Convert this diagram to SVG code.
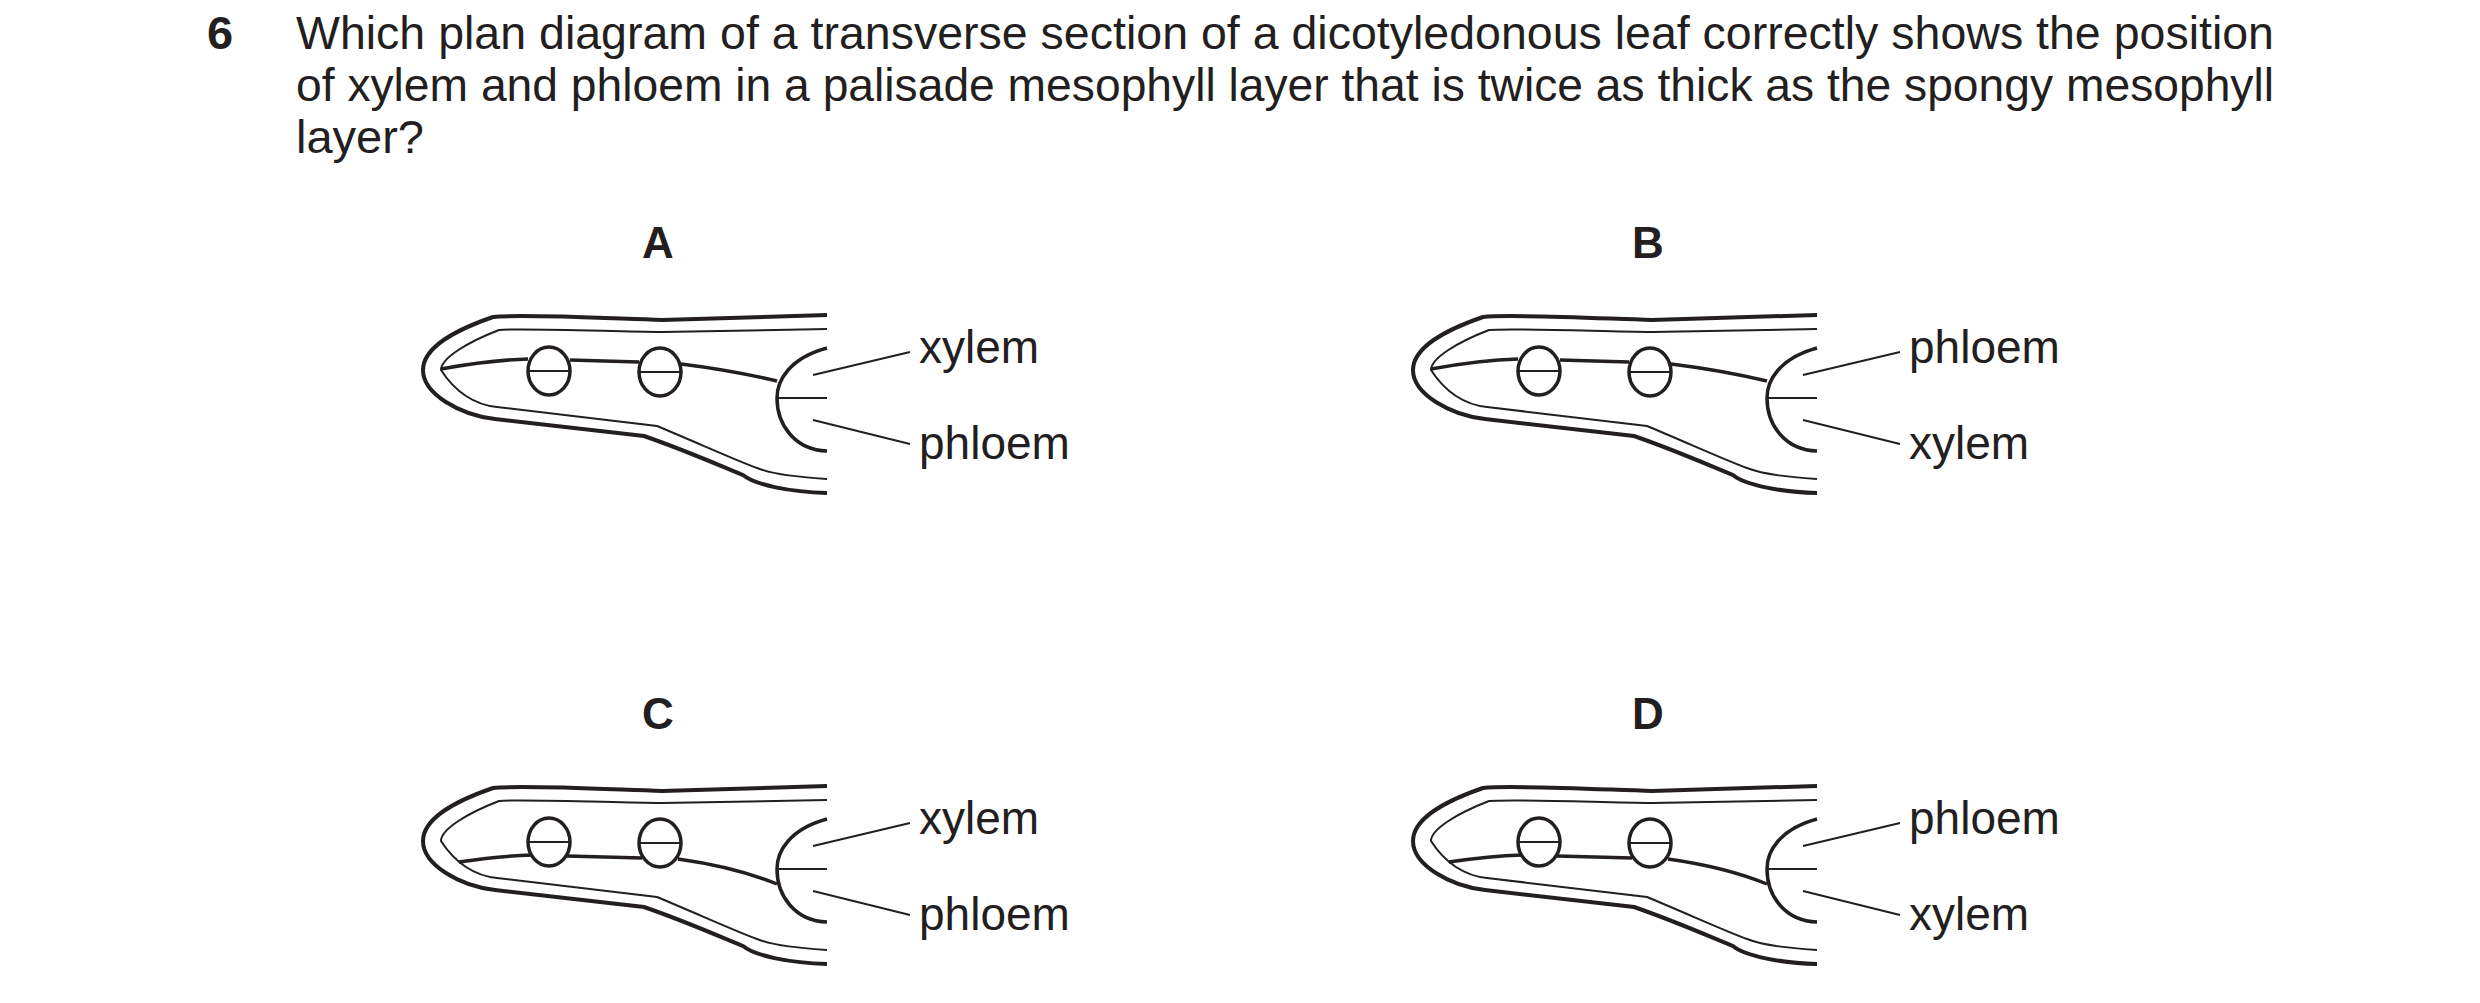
<svg xmlns="http://www.w3.org/2000/svg" xmlns:xlink="http://www.w3.org/1999/xlink" width="2480" height="1003" viewBox="0 0 2480 1003">
<style>
text{font-family:"Liberation Sans",Arial,sans-serif;fill:#231f20}
.q{font-size:47px}
.lbl{font-size:46px}
.opt{font-size:44px;font-weight:bold;text-anchor:middle}
.thick{fill:none;stroke:#231f20;stroke-width:4}
.thin{fill:none;stroke:#231f20;stroke-width:2}
.mid{fill:none;stroke:#231f20;stroke-width:3.5}
</style>
<defs>
<g id="base">
<path class="thick" d="M827,315 L662,320 C600,318 520,314 493,317 C455,330 423,348 423,370 C423,394 460,415 495,419 L644,436 C690,452 730,470 743,475 C755,485 790,492 827,493"/>
<path class="thin" d="M827,329 L662,332 C600,331 520,328 499,330 C468,342 441,358 441,370 C455,392 475,405 497,407 L657,426 C700,444 740,462 757,468 C775,475 800,477 827,479"/>
<ellipse class="mid" cx="549" cy="371" rx="21" ry="24"/>
<ellipse class="mid" cx="660" cy="372" rx="21" ry="24"/>
<path class="thin" d="M528,371 H570 M639,372 H681"/>
<path class="mid" d="M827,348 C790,358 777,380 777,398 C777,425 795,450 827,451"/>
<path class="thin" d="M777,398 H827"/>
<path class="thin" d="M813,375 L910,352 M813,420 L910,444"/>
</g>
<path id="midA" class="mid" d="M441,369 Q490,360 528,359 M570,360 L639,362 M681,364 Q730,370 777,381"/>
<path id="midC" class="mid" d="M459,391 Q500,385 532,384 M567,385 L642,387 M678,388 Q735,396 777,413"/>
</defs>
<text class="q" x="207" y="49" font-weight="bold">6</text>
<text class="q" x="296" y="49" textLength="1978" lengthAdjust="spacingAndGlyphs">Which plan diagram of a transverse section of a dicotyledonous leaf correctly shows the position</text>
<text class="q" x="296" y="101" textLength="1978" lengthAdjust="spacingAndGlyphs">of xylem and phloem in a palisade mesophyll layer that is twice as thick as the spongy mesophyll</text>
<text class="q" x="296" y="153">layer?</text>
<g id="optA">
<text class="opt" x="658" y="258">A</text>
<use xlink:href="#base"/><use xlink:href="#midA"/>
<text class="lbl" x="919" y="363">xylem</text>
<text class="lbl" x="919" y="459">phloem</text>
</g>
<g id="optB" transform="translate(990,0)">
<text class="opt" x="658" y="258">B</text>
<use xlink:href="#base"/><use xlink:href="#midA"/>
<text class="lbl" x="919" y="363">phloem</text>
<text class="lbl" x="919" y="459">xylem</text>
</g>
<g id="optC" transform="translate(0,471)">
<text class="opt" x="658" y="258">C</text>
<use xlink:href="#base"/><use xlink:href="#midC"/>
<text class="lbl" x="919" y="363">xylem</text>
<text class="lbl" x="919" y="459">phloem</text>
</g>
<g id="optD" transform="translate(990,471)">
<text class="opt" x="658" y="258">D</text>
<use xlink:href="#base"/><use xlink:href="#midC"/>
<text class="lbl" x="919" y="363">phloem</text>
<text class="lbl" x="919" y="459">xylem</text>
</g>
</svg>
